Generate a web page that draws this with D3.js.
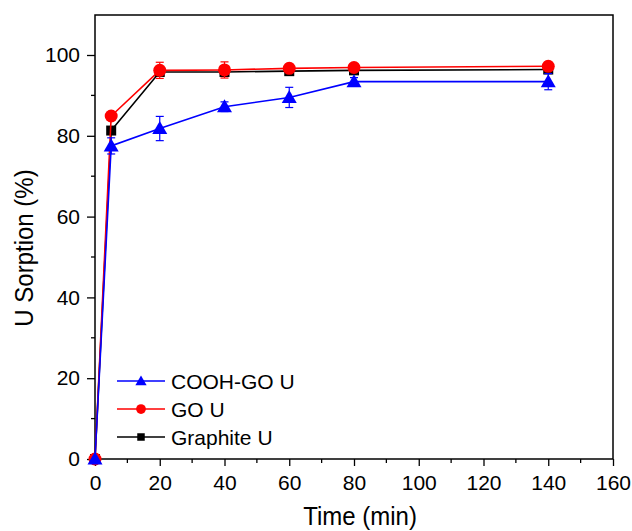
<!DOCTYPE html>
<html>
<head>
<meta charset="utf-8">
<script src="https://cdn.jsdelivr.net/npm/d3@7"></script>
<style>
  body { margin: 0; background: #fff; }
  text { font-family: "Liberation Sans", Arial, sans-serif; fill: #000; }
</style>
</head>
<body>
<div class="visualGraph"></div>
<script>
// data
const times = [0, 5, 20, 40, 60, 80, 140];
const coohGo = [0, 77.5, 81.8, 87.2, 89.5, 93.4, 93.4];
const coohGoErr = [0, 2, 3, 1.2, 2.5, 1, 2];
const go = [0, 84.9, 96.2, 96.3, 96.7, 96.9, 97.2];
const goErr = [0, 0.6, 2, 2, 1, 1, 1];
const graphite = [0, 81.3, 95.8, 95.8, 96.0, 96.2, 96.4];
const graphiteErr = [0, 0.5, 1, 1, 0.8, 0.8, 0.8];
const xTicks = [0, 20, 40, 60, 80, 100, 120, 140, 160];
const yTicks = [0, 20, 40, 60, 80, 100];

const width = 632, height = 531;
const plotLeft = 95, plotRight = 613, plotTop = 15, plotBottom = 459;

const svg = d3.select(".visualGraph")
    .append("svg")
    .attr("width", width)
    .attr("height", height)
    .attr("viewBox", [0, 0, width, height]);

const x = d3.scaleLinear().domain([0, 160]).range([plotLeft, plotRight]);
const y = d3.scaleLinear().domain([0, 100]).range([plotBottom, 55]);
const yTop = y.invert(plotTop);

// frame
svg.append("rect")
    .attr("x", plotLeft).attr("y", plotTop)
    .attr("width", plotRight - plotLeft).attr("height", plotBottom - plotTop)
    .attr("fill", "none").attr("stroke", "#000").attr("stroke-width", 1.5);

// minor ticks
const xMinor = d3.range(10, 160, 20);
const yMinor = d3.range(10, yTop, 20);
svg.append("g").selectAll("line").data(xMinor).join("line")
    .attr("x1", d => x(d)).attr("x2", d => x(d))
    .attr("y1", plotBottom).attr("y2", plotBottom + 4)
    .attr("stroke", "#000").attr("stroke-width", 1.3);
svg.append("g").selectAll("line").data(yMinor).join("line")
    .attr("y1", d => y(d)).attr("y2", d => y(d))
    .attr("x1", plotLeft).attr("x2", plotLeft - 4)
    .attr("stroke", "#000").attr("stroke-width", 1.3);

// axes
const xAxis = svg.append("g")
    .attr("transform", `translate(0,${plotBottom})`)
    .call(d3.axisBottom(x).tickValues(xTicks).tickSize(7).tickPadding(9));
const yAxis = svg.append("g")
    .attr("transform", `translate(${plotLeft},0)`)
    .call(d3.axisLeft(y).tickValues(yTicks).tickSize(8).tickPadding(7));
[xAxis, yAxis].forEach(a => {
    a.select(".domain").remove();
    a.selectAll("line").attr("stroke-width", 1.3);
    a.selectAll("text").style("font-size", "21px")
        .style("font-family", "'Liberation Sans', Arial, sans-serif");
});

// axis titles (slightly stretched across, like the original export)
svg.append("text")
    .attr("transform", "translate(360,525) scale(1,1.1)")
    .attr("text-anchor", "middle")
    .style("font-size", "24px")
    .text("Time (min)");
svg.append("text")
    .attr("transform", "translate(33,248) rotate(-90) scale(1,1.1)")
    .attr("text-anchor", "middle")
    .style("font-size", "24px")
    .text("U Sorption (%)");

// series
const series = [
    { name: "Graphite U", values: graphite, err: graphiteErr, color: "#000000", shape: "square" },
    { name: "GO U", values: go, err: goErr, color: "#ff0000", shape: "circle" },
    { name: "COOH-GO U", values: coohGo, err: coohGoErr, color: "#0000ff", shape: "triangle" }
];

function marker(g, shape, color, scale) {
    const s = scale || 1;
    if (shape === "square") {
        g.append("rect").attr("x", -5 * s).attr("y", -5 * s)
            .attr("width", 10 * s).attr("height", 10 * s).attr("fill", color);
    } else if (shape === "circle") {
        g.append("circle").attr("r", 6.5 * s).attr("fill", color);
    } else {
        g.append("path")
            .attr("d", `M0,${-7.5 * s}L${7.5 * s},${5.5 * s}L${-7.5 * s},${5.5 * s}Z`)
            .attr("fill", color);
    }
}

const line = d3.line().x(d => x(d[0])).y(d => y(d[1]));

series.forEach(s => {
    const pts = times.map((t, i) => [t, s.values[i], s.err[i]]);
    const g = svg.append("g");
    // error bars
    pts.filter(p => p[2] > 0).forEach(p => {
        const eg = g.append("g").attr("stroke", s.color).attr("stroke-width", 1.2);
        eg.append("line").attr("x1", x(p[0])).attr("x2", x(p[0]))
            .attr("y1", y(p[1] - p[2])).attr("y2", y(p[1] + p[2]));
        [p[1] - p[2], p[1] + p[2]].forEach(v => {
            eg.append("line").attr("x1", x(p[0]) - 4).attr("x2", x(p[0]) + 4)
                .attr("y1", y(v)).attr("y2", y(v));
        });
    });
    g.append("path").datum(pts).attr("d", line)
        .attr("fill", "none").attr("stroke", s.color).attr("stroke-width", 1.6);
    pts.forEach(p => {
        const m = g.append("g").attr("transform", `translate(${x(p[0])},${y(p[1])})`);
        marker(m, s.shape, s.color);
    });
});

// legend
const legendItems = [series[2], series[1], series[0]];
const lg = svg.append("g");
legendItems.forEach((s, i) => {
    const yy = 381 + i * 28;
    lg.append("line").attr("x1", 117).attr("x2", 165)
        .attr("y1", yy).attr("y2", yy)
        .attr("stroke", s.color).attr("stroke-width", 1.6);
    const m = lg.append("g").attr("transform", `translate(141,${yy})`);
    marker(m, s.shape, s.color, 0.75);
    lg.append("text").attr("x", 171).attr("y", yy + 8)
        .style("font-size", "21px").text(s.name);
});
</script>
</body>
</html>
